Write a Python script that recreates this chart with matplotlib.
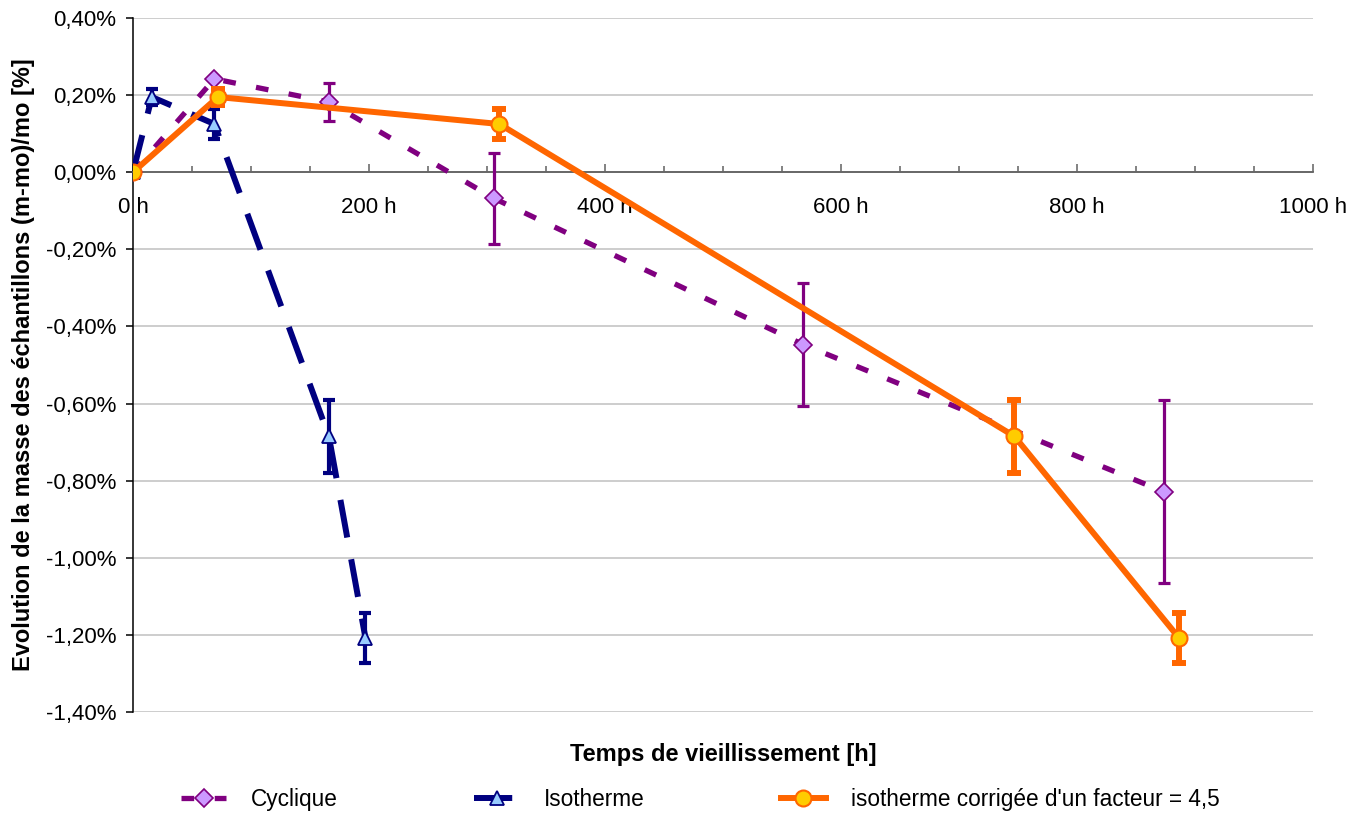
import numpy as np
import matplotlib
matplotlib.use("Agg")
import matplotlib.pyplot as plt
from matplotlib.ticker import MultipleLocator, FuncFormatter

plt.rcParams['font.family'] = ['Liberation Sans', 'DejaVu Sans']

# data (mass change in %)
temps_cyc = np.array([0, 69, 166, 306, 568, 874])
masse_cyc = np.array([0.0, 0.242, 0.182, -0.068, -0.447, -0.829])
err_cyc = np.array([0, 0, 0.05, 0.117, 0.16, 0.237])

temps_iso = np.array([0, 16, 69, 166, 197])
masse_iso = np.array([0.0, 0.195, 0.125, -0.685, -1.208])
err_iso = np.array([0, 0.02, 0.04, 0.095, 0.065])

facteur = 4.5
temps_corr = temps_iso * facteur

labels = ["Cyclique", "Isotherme", "isotherme corrigée d'un facteur = 4,5"]

fig = plt.figure(figsize=(13.64, 8.14), dpi=100)
ax = fig.add_axes([0.0975, 0.1253, 0.8651, 0.8526])

# horizontal grid
ax.set_ylim(-1.4, 0.4)
ax.set_xlim(0, 1000)
ax.yaxis.set_major_locator(MultipleLocator(0.2))
ax.grid(axis='y', color='#c0c0c0', lw=1.1, zorder=0)
ax.set_axisbelow(True)

# error bars (only where there is one)
m = err_cyc > 0
ax.errorbar(temps_cyc[m], masse_cyc[m], yerr=err_cyc[m], fmt='none', ecolor='#800080',
            elinewidth=2.3, capsize=4, capthick=2.3, zorder=3)
m = err_iso > 0
ax.errorbar(temps_iso[m], masse_iso[m], yerr=err_iso[m], fmt='none', ecolor='#000080',
            elinewidth=3, capsize=4, capthick=3, zorder=4)
ax.errorbar(temps_corr[m], masse_iso[m], yerr=err_iso[m], fmt='none', ecolor='#ff6600',
            elinewidth=4.3, capsize=5, capthick=4.3, zorder=5)

l1, = ax.plot(temps_cyc, masse_cyc, color='#800080', lw=3.8, dashes=(2.4, 3.9),
              marker='D', ms=9, mfc='#cc99ff', mec='#800080', mew=1.2, zorder=3.5)
l2, = ax.plot(temps_iso, masse_iso, color='#000080', lw=4.3, dashes=(6.4, 3.7),
              marker='^', ms=10.5, mfc='#99ccff', mec='#000080', mew=1.3, zorder=4.5)
l3, = ax.plot(temps_corr, masse_iso, color='#ff6600', lw=4.3,
              marker='o', ms=11.5, mfc='#ffcc00', mec='#ff6600', mew=1.5, zorder=5.5)

# axes look
for s in ['top', 'right']:
    ax.spines[s].set_visible(False)
ax.spines['bottom'].set_position(('data', 0))
ax.spines['bottom'].set_color('#606060')
ax.spines['bottom'].set_linewidth(1.3)
ax.spines['left'].set_color('black')
ax.spines['left'].set_linewidth(1.1)

ax.xaxis.set_major_locator(MultipleLocator(200))
ax.xaxis.set_minor_locator(MultipleLocator(50))
ax.xaxis.set_major_formatter(FuncFormatter(lambda v, p: "%d h" % v))
ax.tick_params(axis='x', which='major', direction='in', length=6, width=1.1,
               color='#606060', pad=18, labelsize=16)
ax.tick_params(axis='x', which='minor', direction='in', length=4.5, width=1.1, color='#606060')
ax.yaxis.set_major_formatter(FuncFormatter(
    lambda v, p: ("%.2f%%" % (round(v, 2) + 0.0)).replace('.', ',')))
ax.tick_params(axis='y', direction='out', length=5, width=1.1, pad=7, labelsize=16)

ax.set_ylabel("Evolution de la masse des échantillons (m-mo)/mo [%]", fontsize=17,
              fontweight='bold', labelpad=8)
ax.set_xlabel("Temps de vieillissement [h]", fontsize=17, fontweight='bold', labelpad=0)
ax.xaxis.set_label_coords(0.5, -0.045)

fig.legend([l1, l2, l3], labels, loc='center left', bbox_to_anchor=(181 / 1364, 0.018),
           ncol=3, frameon=False, fontsize=16.3, handlelength=2.0, handletextpad=1.1,
           columnspacing=6.0, borderpad=0, borderaxespad=0)

fig.savefig("out.png", dpi=100)
